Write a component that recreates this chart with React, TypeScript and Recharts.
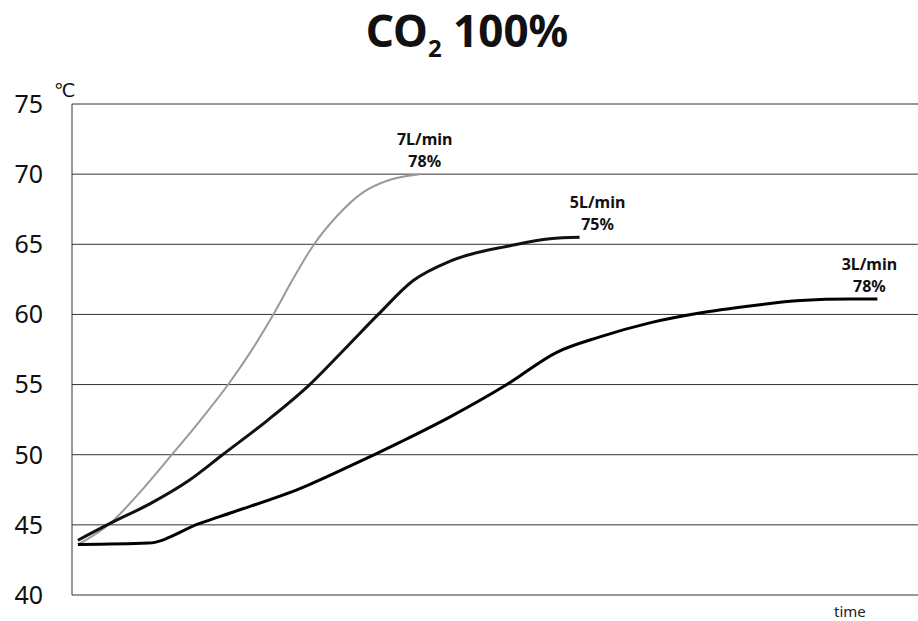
import { CartesianGrid, Line, LineChart, XAxis, YAxis } from "recharts";

// values (time in arbitrary units 0..100)
const yTicks = [40, 45, 50, 55, 60, 65, 70, 75];

const flow7 = [
  { t: 0.7, v: 43.6 }, { t: 4.5, v: 45.1 }, { t: 8, v: 47.3 }, { t: 11.8, v: 50 },
  { t: 15.1, v: 52.4 }, { t: 18.7, v: 55.2 }, { t: 21.4, v: 57.6 }, { t: 23.9, v: 60.1 },
  { t: 26.1, v: 62.5 }, { t: 28.5, v: 64.9 }, { t: 31.3, v: 67 }, { t: 34.4, v: 68.7 },
  { t: 37.6, v: 69.6 }, { t: 41.1, v: 70 },
];

const flow5 = [
  { t: 0.7, v: 43.9 }, { t: 4.5, v: 45.1 }, { t: 9.2, v: 46.5 }, { t: 13.9, v: 48.2 },
  { t: 17.8, v: 50 }, { t: 23, v: 52.4 }, { t: 28.1, v: 55 }, { t: 32.5, v: 57.7 },
  { t: 36.2, v: 60 }, { t: 40.3, v: 62.4 }, { t: 44.7, v: 63.8 }, { t: 51.8, v: 64.9 },
  { t: 56.5, v: 65.4 }, { t: 60, v: 65.5 },
];

const flow3 = [
  { t: 0.7, v: 43.6 }, { t: 9, v: 43.7 }, { t: 15.1, v: 45.1 }, { t: 19, v: 45.9 },
  { t: 27, v: 47.6 }, { t: 32.9, v: 49.2 }, { t: 38.8, v: 50.9 }, { t: 44.7, v: 52.7 },
  { t: 51.4, v: 55 }, { t: 57.3, v: 57.3 }, { t: 62.4, v: 58.4 }, { t: 68.3, v: 59.4 },
  { t: 74.2, v: 60.1 }, { t: 80.1, v: 60.6 }, { t: 86.1, v: 61 }, { t: 92, v: 61.1 },
  { t: 95.2, v: 61.1 },
];

const series = [
  { name: "7L/min", pct: "78%", data: flow7, color: "#9a9a9a", width: 2, dx: 5 },
  { name: "5L/min", pct: "75%", data: flow5, color: "#111", width: 3, dx: 18 },
  { name: "3L/min", pct: "78%", data: flow3, color: "#000", width: 3, dx: -8 },
];

const font = "'Noto Sans', sans-serif";

function endLabel(s: any, last: number) {
  return (props: any) => {
    if (props.index !== last) return null;
    const x = props.x + s.dx;
    return (
      <g>
        <text x={x} y={props.y - 29} textAnchor="middle" fontSize={16} fontWeight="bold" fontFamily={font} fill="#111">
          {s.name}
        </text>
        <text x={x} y={props.y - 7} textAnchor="middle" fontSize={16} fontWeight="bold" fontFamily={font} fill="#111">
          {s.pct}
        </text>
      </g>
    );
  };
}

export default function App() {
  return (
    <div style={{ position: "absolute", left: 0, top: 0, width: 918, height: 621, background: "#fff" }}>
      <div style={{ position: "absolute", left: 8, width: 918, top: 0, lineHeight: "60px", textAlign: "center", fontFamily: font, fontWeight: "bold", fontSize: 44, color: "#111" }}>
        CO<sub style={{ fontSize: 24, lineHeight: 0 }}>2</sub> 100%
      </div>
      <div style={{ position: "absolute", left: 54, top: 78, fontFamily: "'DejaVu Sans', sans-serif", fontSize: 19, lineHeight: "24px", color: "#111" }}>℃</div>
      <div style={{ position: "absolute", left: 834, top: 601, fontFamily: font, fontSize: 15, color: "#222" }}>time</div>
      <LineChart width={918} height={621} margin={{ top: 104, right: 0, bottom: 26, left: 0 }}>
        <CartesianGrid vertical={false} stroke="#333" />
        <XAxis type="number" dataKey="t" domain={[0, 100]} hide />
        <YAxis
          type="number"
          domain={[40, 75]}
          ticks={yTicks}
          width={72}
          tickLine={false}
          tickSize={0}
          tickMargin={29}
          axisLine={{ stroke: "#333" }}
          tick={{ fontSize: 25, fontFamily: font, fill: "#111" }}
        />
        {series.map((s) => (
          <Line
            key={s.name}
            data={s.data}
            dataKey="v"
            type="monotone"
            stroke={s.color}
            strokeWidth={s.width}
            dot={false}
            isAnimationActive={false}
            label={endLabel(s, s.data.length - 1)}
          />
        ))}
      </LineChart>
    </div>
  );
}
